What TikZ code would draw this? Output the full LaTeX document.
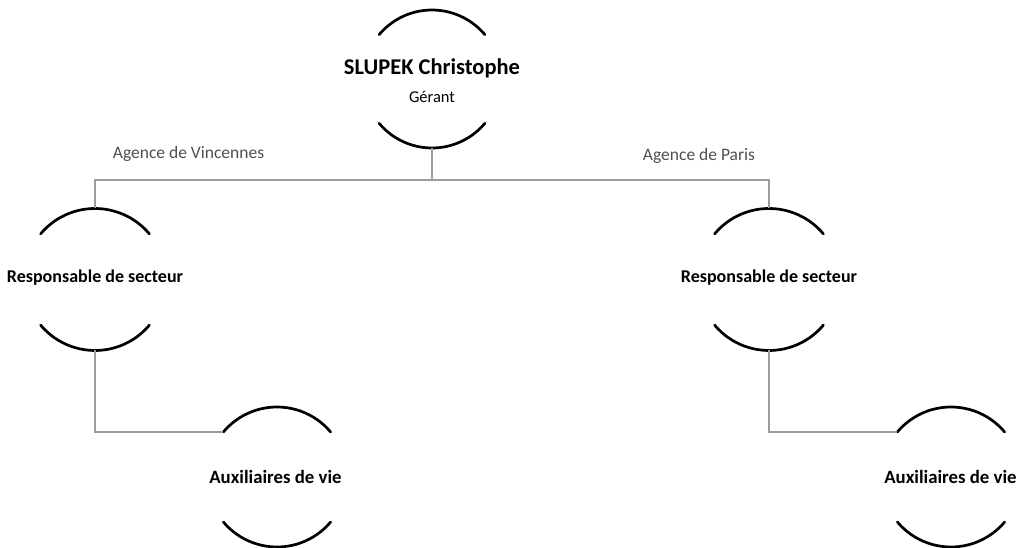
\documentclass[tikz,border=0pt]{standalone}
\usepackage{fontspec}
\setmainfont{Carlito}
\definecolor{conn}{HTML}{9C9C9C}
\definecolor{agency}{HTML}{4F4F4F}
\tikzset{
  arcline/.style={line width=2.7pt, black, line cap=round},
  connline/.style={line width=1.4pt, conn},
  roletext/.style={font=\fontsize{18}{20}\selectfont\bfseries, inner sep=0pt},
  auxtext/.style={font=\fontsize{18.8}{20}\selectfont\bfseries, inner sep=0pt},
  agencytext/.style={font=\fontsize{17.5}{20}\selectfont, text=agency, inner sep=0pt}
}
\newcommand{\orgarcs}[2]{%
  \draw[arcline] ([shift={(40:#2)}]#1) arc (40:140:#2);
  \draw[arcline] ([shift={(220:#2)}]#1) arc (220:320:#2);
}
\begin{document}
\begin{tikzpicture}[x=1pt,y=1pt]
\useasboundingbox (0,0) rectangle (1028,548);
% centres (image y -> 548-y)
\coordinate (cTop) at (432,469);
\coordinate (cRL) at (95,268.5);
\coordinate (cRR) at (769,268.5);
\coordinate (cAL) at (277,71);
\coordinate (cAR) at (951,71);

\orgarcs{cTop}{69}
\orgarcs{cRL}{71}
\orgarcs{cRR}{71}
\orgarcs{cAL}{70}
\orgarcs{cAR}{70}

\node[font=\fontsize{22.5}{24}\selectfont\bfseries, inner sep=0pt] (boss) at (432,480) {SLUPEK Christophe};
\node[font=\fontsize{16.5}{18}\selectfont, inner sep=0pt] (role) at (432,451) {Gérant};
\node[roletext] (respL) at (95,270) {Responsable de secteur};
\node[roletext] (respR) at (769,270) {Responsable de secteur};
\node[auxtext] (auxL) at (275.5,71) {Auxiliaires de vie};
\node[auxtext] (auxR) at (950.5,71) {Auxiliaires de vie};
\node[agencytext] (agV) at (188.5,394) {Agence de Vincennes};
\node[agencytext] (agP) at (699,392) {Agence de Paris};

% connector anchors
\coordinate (topB) at ([shift={(270:69)}]cTop);
\coordinate (jTop) at (topB |- 0,368);
\coordinate (rlT) at ([shift={(90:71)}]cRL);
\coordinate (rrT) at ([shift={(90:71)}]cRR);
\coordinate (rlB) at ([shift={(270:71)}]cRL);
\coordinate (rrB) at ([shift={(270:71)}]cRR);
\coordinate (alE) at ([shift={(140:70)}]cAL);
\coordinate (arE) at ([shift={(140:70)}]cAR);

\draw[connline] (topB) -- (jTop);
\draw[connline] (rlT) |- (jTop) -| (rrT);
\draw[connline] (rlB) |- (alE);
\draw[connline] (rrB) |- (arE);
\end{tikzpicture}
\end{document}
